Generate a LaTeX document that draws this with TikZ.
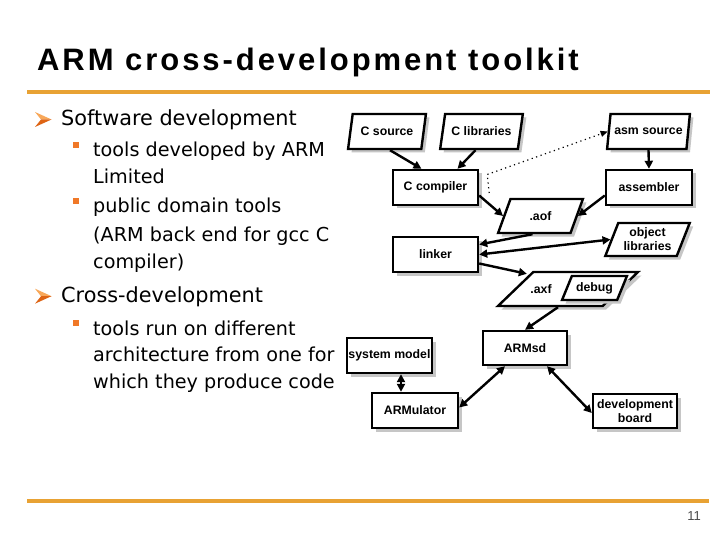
\documentclass[tikz,border=0pt]{standalone}
\usepackage{fontspec}
\setmainfont{Liberation Sans}
\newfontfamily\bodyfont{DejaVu Sans}
\newfontfamily\titlefont{Liberation Sans}[LetterSpace=9.5]
\usetikzlibrary{shapes.geometric,arrows.meta,shadows,calc}
\definecolor{rulecol}{RGB}{232,162,52}
\definecolor{bulletlight}{RGB}{248,168,90}
\definecolor{bulletdark}{RGB}{222,100,20}
\definecolor{squarecol}{RGB}{240,120,40}
\tikzset{
  box/.style={draw, line width=2.4pt, fill=white, minimum width=85pt, minimum height=35pt,
    inner sep=1pt, align=center, font=\fontsize{12.3}{13.8}\selectfont\bfseries,
    drop shadow={shadow xshift=3.5pt, shadow yshift=-3.5pt, fill=gray!45, opacity=1}},
  para/.style={box, trapezium, trapezium stretches=true,
    trapezium left angle=#1, trapezium right angle={180-#1}},
  lbl/.style={font=\fontsize{12.3}{13.8}\selectfont\bfseries, inner sep=0pt},
  arr/.style={line width=2.4pt, -{Triangle[length=8pt,width=8pt]}},
  darr/.style={line width=2.4pt, {Triangle[length=8pt,width=8pt]}-{Triangle[length=8pt,width=8pt]}},
  dotarr/.style={line width=1.2pt, dash pattern=on 1.2pt off 3.5pt, -{Triangle[length=7pt,width=6pt]}},
  mainitem/.style={anchor=base west, inner sep=0pt, font=\bodyfont\fontsize{20.8}{25}\selectfont},
  subitem/.style={anchor=base west, inner sep=0pt, font=\bodyfont\fontsize{19.2}{23}\selectfont},
}
\newcommand{\arrowbullet}[2]{%
  \fill[bulletlight] (#1,#2-14) -- (#1+16.5,#2-6.5) -- (#1+6,#2-6.5) -- cycle;
  \fill[bulletdark] (#1+6,#2-6.5) -- (#1+16.5,#2-6.5) -- (#1,#2+1) -- cycle;}
\newcommand{\squarebullet}[2]{%
  \fill[squarecol] (#1,#2-15) rectangle (#1+5.5,#2-9);}
\begin{document}
\begin{tikzpicture}[x=1pt,y=-1pt]
\useasboundingbox[fill=white] (0,0) rectangle (720,540);

% title and rules
\node[anchor=base west, inner sep=0pt, font=\titlefont\bfseries\fontsize{31}{34}\selectfont] (title) at (37,71) {ARM cross-development toolkit};
\draw[line width=4pt, rulecol] (27,92) -- (710,92);
\draw[line width=4pt, rulecol] (27,501) -- (709,501);
\node[anchor=base east, inner sep=0pt, text=black!70, font=\fontsize{13}{15}\selectfont] (page) at (701,520) {11};

% left text
\arrowbullet{35}{126}
\node[mainitem] (t1) at (61,126) {Software development};
\squarebullet{73}{157}
\node[subitem] (t2) at (93,157) {tools developed by ARM};
\node[subitem] (t3) at (93,184) {Limited};
\squarebullet{73}{213}
\node[subitem] (t4) at (93,213) {public domain tools};
\node[subitem] (t5) at (93,241) {(ARM back end for gcc C};
\node[subitem] (t6) at (93,268) {compiler)};
\arrowbullet{35}{302.7}
\node[mainitem] (t7) at (61,302.7) {Cross-development};
\squarebullet{73}{335}
\node[subitem] (t8) at (93,335) {tools run on different};
\node[subitem] (t9) at (93,361.7) {architecture from one for};
\node[subitem] (t10) at (93,388.3) {which they produce code};

% diagram nodes
\node[para=71, minimum width=78pt] (csrc) at (387,131.5) {C source};
\node[para=69, minimum width=83pt] (clib) at (481.5,131.5) {C libraries};
\node[para=70, minimum width=83pt] (asm) at (648.5,131.5) {asm source};
\node[box] (ccomp) at (435.5,187.5) {C compiler};
\node[box, minimum width=86pt] (asmbl) at (649,187.5) {assembler};
\node[para=66, minimum width=85pt, minimum height=34pt] (aof) at (540.5,216) {.aof};
\node[box] (linker) at (435.5,254.5) {linker};
\node[para=66, minimum width=85pt, minimum height=33pt] (objlib) at (647.5,239.5) {object\\libraries};
\node[para=63, minimum width=140pt, minimum height=34pt] (axf) at (568,289) {};
\node[lbl] (axft) at (541,289) {.axf};
\node[para=58, minimum width=65pt, minimum height=24pt] (debug) at (594.5,288) {debug};
\node[box, minimum width=84pt, minimum height=34pt] (armsd) at (525,348) {ARMsd};
\node[box] (sys) at (389.5,355.5) {system model};
\node[box, minimum width=86pt] (armul) at (415,410.5) {ARMulator};
\node[box, minimum width=84pt, minimum height=34pt] (dev) at (635,411) {development\\board};

% connectors
\draw[arr] ([xshift=3pt]csrc.south) -- ([xshift=-14pt]ccomp.north);
\draw[arr] ([xshift=-6pt]clib.south) -- ([xshift=22pt]ccomp.north);
\draw[arr] ([yshift=-8pt]ccomp.east) -- (aof.west);
\draw[arr] (asm.south) -- (asmbl.north);
\draw[arr] ([yshift=-8pt]asmbl.west) -- (aof.east);
\draw[arr] ([xshift=-8pt]aof.south) -- ([yshift=10pt]linker.east);
\draw[darr] (linker.east) -- (objlib.west);
\draw[arr] ([yshift=-9pt]linker.east) -- ([xshift=-6pt,yshift=-3pt]axf.top left corner);
\draw[arr] ([xshift=-10pt]axf.south) -- (armsd.north);
\draw[darr] ([xshift=-20pt]armsd.south) -- ([yshift=3pt]armul.east);
\draw[darr] ([xshift=22pt]armsd.south) -- ([yshift=-2pt]dev.west);
\draw[darr] ([xshift=11.5pt]sys.south) -- ([xshift=-14pt]armul.north);
\draw[dotarr] ($(ccomp.east)+(10,5.5)$) -- ($(ccomp.east)+(8,-13)$) -- (asm.west);
\end{tikzpicture}
\end{document}
